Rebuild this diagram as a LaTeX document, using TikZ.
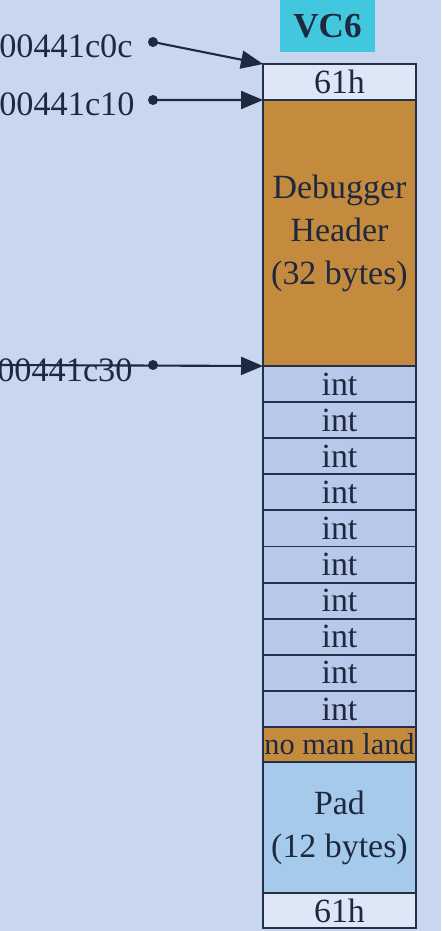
\documentclass[tikz,border=0pt]{standalone}
\usepackage{fontspec}
\setmainfont{Liberation Serif}
\usepackage{xcolor}
\usetikzlibrary{positioning,arrows.meta}
\definecolor{bgBlue}{RGB}{200,214,240}
\definecolor{inkDark}{RGB}{30,40,62}
\definecolor{cellLine}{RGB}{36,48,72}
\definecolor{intBlue}{RGB}{184,200,234}
\definecolor{markBlue}{RGB}{222,231,246}
\definecolor{hdrOrange}{RGB}{196,139,62}
\definecolor{padBlue}{RGB}{166,202,236}
\definecolor{vcCyan}{RGB}{66,200,222}

\begin{document}
\begin{tikzpicture}[x=0.02cm,y=-0.02cm,
  cell/.style={draw=cellLine,line width=1.1pt,fill=intBlue,minimum width=3.06cm,inner sep=0pt,outer sep=0pt,text=inkDark,align=center,font=\fontsize{19.3}{24.5}\selectfont},
  addrtxt/.style={anchor=west,inner sep=0pt,text=inkDark,font=\fontsize{19.5}{23}\selectfont},
  dot/.style={circle,fill=inkDark,inner sep=0pt,minimum size=0.2cm},
  ptr/.style={draw=inkDark,line width=1.2pt,-{Triangle[length=0.44cm,width=0.36cm]}}]
  \def\colx{339.5}
  \def\intht{36.1}
  \fill[bgBlue] (0,0) rectangle (441,931);
  \useasboundingbox (0,0) rectangle (441,931);
  % label on top
  \node[fill=vcCyan,minimum width=1.9cm,minimum height=1.04cm,inner sep=0pt,text=inkDark,font=\bfseries\fontsize{20}{24}\selectfont] (vc) at (327.5,26) {VC6};
  % the memory block
  \node[cell,fill=markBlue,minimum height=0.72cm,anchor=north] (topmark) at (\colx,64) {61h};
  \node[cell,fill=hdrOrange,minimum height=5.32cm,below=0pt of topmark] (hdr) {Debugger\\Header\\(32 bytes)};
  \foreach \i in {1,...,10}
    \node[cell,minimum height=0.722cm,anchor=north] (int\i) at (\colx,{366+(\i-1)*\intht}) {int};
  \node[cell,fill=hdrOrange,minimum height=0.70cm,below=0pt of int10,font=\fontsize{17.3}{20}\selectfont] (nml) {no man land};
  \node[cell,fill=padBlue,minimum height=2.62cm,below=0pt of nml] (pad) {Pad\\(12 bytes)};
  \node[cell,fill=markBlue,minimum height=0.70cm,below=0pt of pad] (botmark) {61h};
  % addresses
  \node[addrtxt] (a0c) at (-1,46) {00441c0c};
  \node[addrtxt] (a10) at (-1,104) {00441c10};
  \node[addrtxt] (a30) at (-3,370) {00441c30};
  \node[dot] (d0c) at (153,42) {};
  \node[dot] (d10) at (153,100) {};
  \node[dot] (d30) at (153,365) {};
  \coordinate (l30) at (0,365);
  \draw[ptr] (d0c.center) -- (topmark.north west);
  \draw[ptr] (d10.center) -- (hdr.north west);
  \draw[ptr] (l30) -- (int1.north west);
\end{tikzpicture}
\end{document}
